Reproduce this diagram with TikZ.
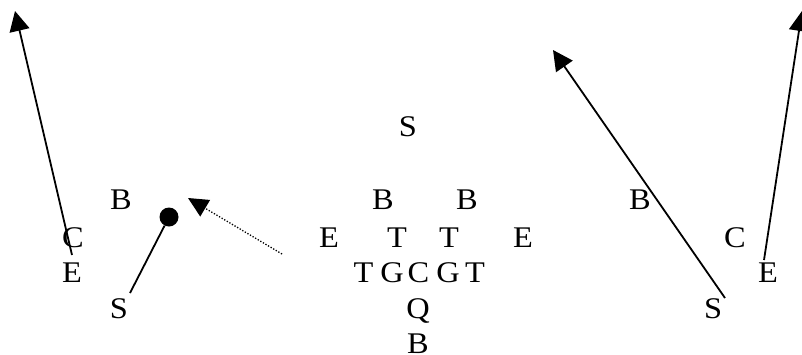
\documentclass[tikz,border=0pt]{standalone}
\usepackage{fontspec}
\setmainfont{Liberation Serif}
\usetikzlibrary{arrows.meta}
\begin{document}
\begin{tikzpicture}[x=1pt,y=-1pt,
  letter/.style={font=\fontsize{30}{36}\selectfont, inner sep=0pt, anchor=base, xscale=1.08},
  route/.style={line width=1.8pt, -{Triangle[length=20pt,width=20pt]}},
  motion/.style={line width=1.3pt, dash pattern=on 1.3pt off 1.7pt, -{Triangle[length=20pt,width=19pt]}},
  plain/.style={line width=1.8pt},
  blob/.style={circle, fill=black, inner sep=0pt, minimum size=19pt}]
\useasboundingbox (0,0) rectangle (802,354);
% left group
\node[letter] (lB) at (121,209) {B};
\node[letter] (lC) at (73,247) {C};
\node[letter] (lE) at (72,282) {E};
\node[letter] (lS) at (119,318) {S};
% centre formation
\node[letter] (cS) at (408,136) {S};
\node[letter] (cB1) at (383,209) {B};
\node[letter] (cB2) at (467,209) {B};
\node[letter] (cE1) at (329,247) {E};
\node[letter] (cT1) at (397,247) {T};
\node[letter] (cT2) at (449,247) {T};
\node[letter] (cE2) at (523,247) {E};
\node[letter] (nT1) at (363.5,282) {T};
\node[letter] (nG1) at (392,282) {G};
\node[letter] (nC) at (418.5,282) {C};
\node[letter] (nG2) at (448,282) {G};
\node[letter] (nT2) at (475,282) {T};
\node[letter] (cQ) at (418,318) {Q};
\node[letter] (cB3) at (418,353.5) {B};
% right group
\node[letter] (rB) at (640,209) {B};
\node[letter] (rC) at (735,247) {C};
\node[letter] (rE) at (768,282) {E};
\node[letter] (rS) at (713,318) {S};
% connectors
\coordinate (a1s) at (72,255);
\coordinate (a1e) at (15,11);
\draw[route] (a1s) -- (a1e);
\node[blob] (dot) at (169,217) {};
\coordinate (d1) at (130,293);
\draw[plain] (d1) -- (dot);
\coordinate (m1s) at (282,254);
\coordinate (m1e) at (188,198);
\draw[motion] (m1s) -- (m1e);
\coordinate (a2s) at (725,298);
\coordinate (a2e) at (553,50);
\draw[route] (a2s) -- (a2e);
\coordinate (a3s) at (764,260);
\coordinate (a3e) at (802,11);
\draw[route] (a3s) -- (a3e);
\end{tikzpicture}
\end{document}
